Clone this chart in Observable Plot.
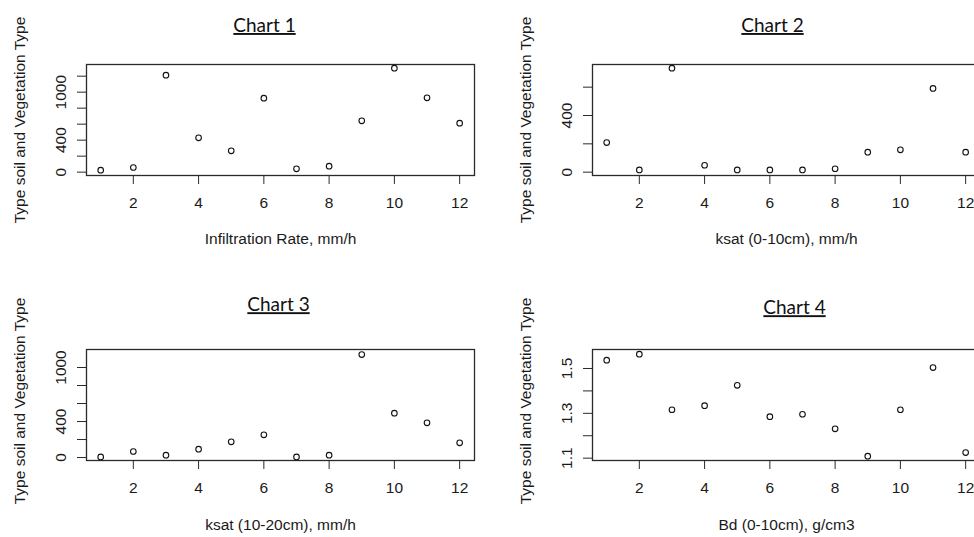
<!DOCTYPE html>
<html>
<head>
<meta charset="utf-8">
<script src="https://cdn.jsdelivr.net/npm/d3@7"></script>
<script src="https://cdn.jsdelivr.net/npm/@observablehq/plot@0.6"></script>
<style>
  html, body { margin: 0; padding: 0; background: #fff; overflow: hidden; }
  #wrap { position: relative; width: 974px; height: 537px; overflow: hidden; }
  .panel { position: absolute; }
</style>
</head>
<body>
<div id="wrap"></div>
<script>
// ---- data ----
const xValues = [1, 2, 3, 4, 5, 6, 7, 8, 9, 10, 11, 12];
const chartTitles = ["Chart 1", "Chart 2", "Chart 3", "Chart 4"];
const xTitles = ["Infiltration Rate, mm/h", "ksat (0-10cm), mm/h", "ksat (10-20cm), mm/h", "Bd (0-10cm), g/cm3"];
const yTitle = "Type soil and Vegetation Type";

const infiltrationRate = [25, 58, 1212, 429, 267, 925, 42, 75, 642, 1300, 929, 612];
const ksat0to10 = [209, 16, 734, 49, 16, 16, 16, 24, 141, 158, 591, 141];
const ksat10to20 = [7, 67, 26, 93, 174, 252, 7, 26, 1144, 493, 385, 163];
const bd0to10 = [1.537, 1.564, 1.316, 1.334, 1.425, 1.285, 1.296, 1.231, 1.109, 1.316, 1.504, 1.125];

const xTicks = [2, 4, 6, 8, 10, 12];
const yTicks1 = [0, 200, 400, 600, 800, 1000, 1200];
const yTickLabels1 = [0, 400, 1000];
const yTicks2 = [0, 200, 400, 600];
const yTickLabels2 = [0, 400];
const yTicks3 = [0, 200, 400, 600, 800, 1000];
const yTickLabels3 = [0, 400, 1000];
const yTicks4 = [1.1, 1.2, 1.3, 1.4, 1.5];
const yTickLabels4 = [1.1, 1.3, 1.5];

// ---- layout ----
const panels = [
  {left: 0,   top: 0,   width: 487, height: 268, ml: 86,  mr: 13, mt: 64, mb: 93,
   yDomain: [-42, 1346], values: infiltrationRate, yTicks: yTicks1, yLabels: yTickLabels1,
   titleDx: -16, titleDy: -32.5, yTitleDy: 0, xTitleDy: 68.5, fmt: d => String(d)},
  {left: 487, top: 0,   width: 493, height: 268, ml: 105, mr: 0,  mt: 64, mb: 93,
   yDomain: [-23.5, 760], values: ksat0to10, yTicks: yTicks2, yLabels: yTickLabels2,
   titleDx: -14, titleDy: -32.5, yTitleDy: 0, xTitleDy: 68.5, fmt: d => String(d)},
  {left: 0,   top: 268, width: 487, height: 269, ml: 86,  mr: 13, mt: 81, mb: 77,
   yDomain: [-33, 1200], values: ksat10to20, yTicks: yTicks3, yLabels: yTickLabels3,
   titleDx: -2, titleDy: -38.3, yTitleDy: -4, xTitleDy: 69.6, fmt: d => String(d)},
  {left: 487, top: 268, width: 493, height: 269, ml: 105, mr: 0,  mt: 81, mb: 77,
   yDomain: [1.0896, 1.5847], values: bd0to10, yTicks: yTicks4, yLabels: yTickLabels4,
   titleDx: 8, titleDy: -35.3, yTitleDy: -4, xTitleDy: 69, fmt: d => d.toFixed(1)}
];

const wrap = document.getElementById("wrap");
const textColor = "#1a1a1a";
const sans = "'Liberation Sans', Arial, sans-serif";

panels.forEach((p, i) => {
  const data = xValues.map((x, j) => ({x, y: p.values[j]}));
  const svg = Plot.plot({
    width: p.width,
    height: p.height,
    marginLeft: p.ml, marginRight: p.mr, marginTop: p.mt, marginBottom: p.mb,
    x: {domain: [0.565, 12.455]},
    y: {domain: p.yDomain},
    style: {fontFamily: sans, fontSize: "15.5px", color: textColor, background: "transparent", overflow: "visible"},
    marks: [
      Plot.frame({stroke: "#2a2a2a", strokeWidth: 1.3}),
      Plot.axisX(xTicks, {tickSize: 9, tickPadding: 12, fontSize: 15.5, label: null, stroke: "#2a2a2a"}),
      Plot.axisY(p.yTicks, {tickSize: 9, tickFormat: () => "", label: null, stroke: "#2a2a2a"}),
      Plot.text(p.yLabels, {y: d => d, text: p.fmt, frameAnchor: "left", textAnchor: "middle", dx: -25.5, rotate: -90, fontSize: 15.5, fill: textColor}),
      Plot.text([xTitles[i]], {text: d => d, frameAnchor: "bottom", textAnchor: "middle", dy: p.xTitleDy, fontSize: 15.5, fill: textColor}),
      Plot.text([yTitle], {text: d => d, frameAnchor: "left", textAnchor: "middle", dx: -66.5, dy: p.yTitleDy, rotate: -90, fontSize: 15.5, fill: textColor}),
      Plot.text([chartTitles[i]], {text: d => d, frameAnchor: "top", textAnchor: "middle", lineAnchor: "bottom", dx: p.titleDx, dy: p.titleDy,
        fontSize: 19, fontFamily: "Lato, 'Open Sans', sans-serif", fill: "#111"}),
      Plot.dot(data, {x: "x", y: "y", r: 2.8, stroke: "#111", strokeWidth: 1.1, fill: "white"})
    ]
  });
  d3.select(svg).selectAll("text")
    .filter(function() { return chartTitles.includes(this.textContent); })
    .style("text-decoration", "underline");
  svg.classList.add("panel");
  svg.style.left = p.left + "px";
  svg.style.top = p.top + "px";
  svg.style.position = "absolute";
  wrap.appendChild(svg);
});
</script>
</body>
</html>
